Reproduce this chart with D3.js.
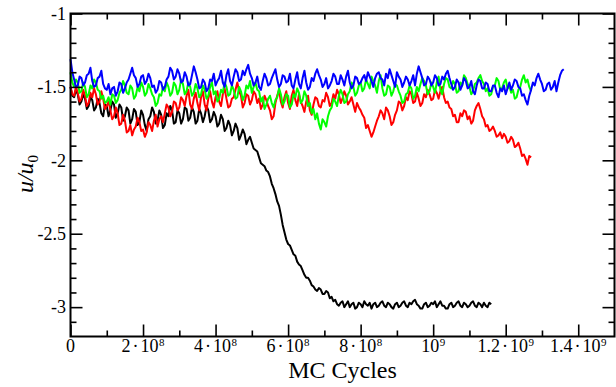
<!DOCTYPE html>
<html>
<head>
<meta charset="utf-8">
<script src="https://cdn.jsdelivr.net/npm/d3@7"></script>
<style>
  html, body { margin: 0; padding: 0; background: #fff; }
  svg { display: block; }
  text { font-family: "Liberation Serif", "DejaVu Serif", serif; fill: #000; }
</style>
</head>
<body>
<svg id="chart" width="616" height="387"></svg>
<script>
// sampling interval of the runs, in MC cycles
const step = 5e6

const blackRun = [
  -1.50, -1.56, -1.57, -1.52, -1.55, -1.62, -1.60, -1.55, -1.58, -1.65, -1.63, -1.57, -1.59, -1.66, -1.64, -1.58, -1.61, -1.68, -1.70, -1.62,
  -1.63, -1.70, -1.66, -1.60, -1.62, -1.71, -1.68, -1.62, -1.64, -1.73, -1.70, -1.64, -1.66, -1.75, -1.72, -1.65, -1.67, -1.76, -1.74, -1.66,
  -1.69, -1.76, -1.80, -1.72, -1.70, -1.64, -1.67, -1.75, -1.73, -1.66, -1.69, -1.78, -1.76, -1.68, -1.70, -1.63, -1.66, -1.75, -1.74, -1.66,
  -1.68, -1.75, -1.72, -1.64, -1.65, -1.73, -1.71, -1.64, -1.67, -1.75, -1.73, -1.65, -1.68, -1.74, -1.70, -1.63, -1.66, -1.74, -1.72, -1.67,
  -1.70, -1.77, -1.75, -1.69, -1.72, -1.80, -1.78, -1.73, -1.76, -1.83, -1.80, -1.75, -1.78, -1.86, -1.83, -1.79, -1.82, -1.89, -1.86, -1.84,
  -1.88, -1.92, -1.93, -1.94, -1.98, -2.02, -2.03, -2.04, -2.07, -2.08, -2.11, -2.16, -2.19, -2.23, -2.28, -2.31, -2.37, -2.44, -2.49, -2.54,
  -2.57, -2.58, -2.61, -2.64, -2.65, -2.69, -2.71, -2.72, -2.75, -2.78, -2.80, -2.80, -2.82, -2.85, -2.86, -2.88, -2.89, -2.87, -2.88, -2.91,
  -2.91, -2.89, -2.90, -2.94, -2.93, -2.96, -2.95, -2.98, -2.99, -2.97, -2.96, -3.00, -2.98, -2.96, -3.00, -2.98, -2.97, -3.01, -3.00, -2.97,
  -2.98, -3.00, -2.96, -2.98, -2.99, -2.97, -3.01, -2.98, -2.97, -3.00, -2.99, -2.97, -2.96, -2.99, -3.00, -2.97, -2.98, -3.00, -3.01, -2.98,
  -2.97, -3.00, -2.99, -2.97, -2.96, -2.99, -3.00, -2.97, -2.98, -2.96, -2.95, -2.98, -2.99, -3.01, -3.01, -2.98, -2.97, -3.00, -2.99, -2.97,
  -2.98, -2.96, -3.00, -2.98, -2.96, -2.99, -2.99, -3.01, -3.01, -2.98, -2.97, -3.00, -2.99, -2.97, -2.96, -2.99, -3.00, -2.97, -2.98, -3.00,
  -2.99, -2.97, -2.96, -2.99, -3.00, -2.97, -2.98, -3.00, -2.97, -2.99, -3.00, -2.97, -2.98
]

const redRun = [
  -1.50, -1.55, -1.56, -1.50, -1.54, -1.60, -1.58, -1.52, -1.56, -1.63, -1.61, -1.54, -1.57, -1.51, -1.55, -1.62, -1.60, -1.53, -1.58, -1.65,
  -1.63, -1.60, -1.66, -1.72, -1.70, -1.64, -1.68, -1.76, -1.75, -1.69, -1.73, -1.81, -1.80, -1.76, -1.83, -1.79, -1.77, -1.71, -1.74, -1.80,
  -1.79, -1.84, -1.81, -1.74, -1.76, -1.80, -1.73, -1.69, -1.77, -1.72, -1.70, -1.74, -1.68, -1.62, -1.64, -1.70, -1.67, -1.60, -1.61, -1.66,
  -1.64, -1.57, -1.59, -1.63, -1.56, -1.52, -1.62, -1.65, -1.58, -1.54, -1.61, -1.66, -1.57, -1.53, -1.62, -1.66, -1.58, -1.53, -1.60, -1.64,
  -1.57, -1.53, -1.60, -1.63, -1.55, -1.51, -1.58, -1.64, -1.63, -1.58, -1.57, -1.52, -1.47, -1.53, -1.56, -1.64, -1.61, -1.55, -1.56, -1.62,
  -1.59, -1.53, -1.55, -1.61, -1.58, -1.65, -1.62, -1.56, -1.59, -1.63, -1.66, -1.72, -1.70, -1.61, -1.56, -1.52, -1.60, -1.64, -1.57, -1.53,
  -1.61, -1.65, -1.56, -1.52, -1.59, -1.63, -1.55, -1.60, -1.63, -1.67, -1.60, -1.56, -1.66, -1.69, -1.62, -1.57, -1.58, -1.63, -1.64, -1.59,
  -1.60, -1.54, -1.57, -1.63, -1.61, -1.55, -1.58, -1.52, -1.55, -1.61, -1.58, -1.53, -1.56, -1.62, -1.60, -1.57, -1.62, -1.67, -1.61, -1.64,
  -1.66, -1.69, -1.71, -1.78, -1.76, -1.80, -1.84, -1.81, -1.77, -1.73, -1.70, -1.66, -1.68, -1.72, -1.64, -1.66, -1.70, -1.76, -1.74, -1.69,
  -1.66, -1.60, -1.61, -1.66, -1.63, -1.57, -1.59, -1.53, -1.55, -1.61, -1.60, -1.54, -1.58, -1.63, -1.61, -1.55, -1.57, -1.52, -1.55, -1.59,
  -1.58, -1.52, -1.54, -1.58, -1.53, -1.50, -1.57, -1.61, -1.60, -1.64, -1.65, -1.70, -1.69, -1.74, -1.74, -1.68, -1.70, -1.66, -1.67, -1.72,
  -1.70, -1.75, -1.73, -1.66, -1.63, -1.61, -1.65, -1.70, -1.72, -1.77, -1.76, -1.80, -1.79, -1.77, -1.80, -1.84, -1.83, -1.81, -1.85, -1.82,
  -1.84, -1.88, -1.87, -1.84, -1.86, -1.91, -1.90, -1.88, -1.92, -1.97, -1.96, -1.99, -2.03, -1.97, -1.98
]

const greenRun = [
  -1.40, -1.47, -1.50, -1.45, -1.47, -1.54, -1.53, -1.47, -1.50, -1.57, -1.55, -1.49, -1.51, -1.45, -1.47, -1.52, -1.53, -1.58, -1.56, -1.61,
  -1.60, -1.57, -1.62, -1.55, -1.56, -1.61, -1.59, -1.54, -1.52, -1.46, -1.49, -1.54, -1.55, -1.49, -1.51, -1.58, -1.56, -1.50, -1.53, -1.47,
  -1.50, -1.56, -1.54, -1.48, -1.51, -1.55, -1.57, -1.63, -1.61, -1.55, -1.56, -1.50, -1.53, -1.47, -1.50, -1.56, -1.54, -1.47, -1.49, -1.55,
  -1.52, -1.45, -1.48, -1.55, -1.53, -1.47, -1.50, -1.56, -1.54, -1.48, -1.51, -1.57, -1.55, -1.49, -1.52, -1.58, -1.56, -1.50, -1.47, -1.55,
  -1.53, -1.60, -1.58, -1.52, -1.54, -1.47, -1.50, -1.56, -1.55, -1.49, -1.52, -1.58, -1.57, -1.50, -1.53, -1.59, -1.56, -1.49, -1.51, -1.46,
  -1.54, -1.50, -1.47, -1.52, -1.53, -1.60, -1.57, -1.65, -1.62, -1.58, -1.56, -1.61, -1.64, -1.59, -1.57, -1.51, -1.55, -1.62, -1.60, -1.55,
  -1.56, -1.64, -1.62, -1.55, -1.57, -1.51, -1.54, -1.61, -1.59, -1.53, -1.56, -1.63, -1.61, -1.68, -1.65, -1.72, -1.68, -1.75, -1.79, -1.72,
  -1.74, -1.77, -1.70, -1.66, -1.64, -1.58, -1.60, -1.63, -1.56, -1.52, -1.55, -1.61, -1.60, -1.55, -1.53, -1.47, -1.50, -1.56, -1.54, -1.49,
  -1.47, -1.53, -1.51, -1.45, -1.48, -1.51, -1.43, -1.46, -1.49, -1.54, -1.46, -1.42, -1.51, -1.56, -1.55, -1.49, -1.50, -1.56, -1.53, -1.48,
  -1.49, -1.53, -1.56, -1.61, -1.60, -1.55, -1.54, -1.49, -1.51, -1.58, -1.56, -1.50, -1.53, -1.48, -1.44, -1.46, -1.49, -1.55, -1.53, -1.47,
  -1.50, -1.54, -1.47, -1.43, -1.52, -1.55, -1.48, -1.44, -1.45, -1.50, -1.51, -1.46, -1.48, -1.54, -1.53, -1.47, -1.49, -1.42, -1.44, -1.48,
  -1.50, -1.55, -1.53, -1.48, -1.47, -1.44, -1.42, -1.46, -1.48, -1.53, -1.51, -1.56, -1.55, -1.50, -1.49, -1.44, -1.46, -1.52, -1.51, -1.47,
  -1.45, -1.51, -1.49, -1.54, -1.52, -1.58, -1.57, -1.52, -1.50, -1.45, -1.42, -1.47, -1.45, -1.50, -1.53
]

const blueRun = [
  -1.31, -1.40, -1.45, -1.50, -1.49, -1.43, -1.44, -1.49, -1.47, -1.42, -1.41, -1.37, -1.46, -1.50, -1.49, -1.44, -1.43, -1.39, -1.48, -1.51,
  -1.52, -1.48, -1.55, -1.51, -1.50, -1.56, -1.53, -1.47, -1.48, -1.54, -1.51, -1.47, -1.45, -1.41, -1.37, -1.42, -1.44, -1.50, -1.48, -1.43,
  -1.42, -1.48, -1.46, -1.41, -1.44, -1.50, -1.49, -1.54, -1.52, -1.46, -1.47, -1.52, -1.50, -1.45, -1.43, -1.37, -1.39, -1.45, -1.43, -1.38,
  -1.41, -1.47, -1.46, -1.40, -1.43, -1.49, -1.48, -1.42, -1.36, -1.40, -1.45, -1.51, -1.50, -1.45, -1.47, -1.53, -1.51, -1.45, -1.46, -1.41,
  -1.49, -1.46, -1.44, -1.39, -1.47, -1.50, -1.42, -1.38, -1.46, -1.49, -1.43, -1.38, -1.40, -1.46, -1.45, -1.39, -1.42, -1.38, -1.35, -1.41,
  -1.44, -1.49, -1.47, -1.43, -1.50, -1.52, -1.46, -1.41, -1.44, -1.49, -1.48, -1.44, -1.41, -1.38, -1.45, -1.50, -1.48, -1.42, -1.43, -1.47,
  -1.46, -1.41, -1.49, -1.51, -1.45, -1.40, -1.48, -1.51, -1.44, -1.39, -1.47, -1.52, -1.50, -1.44, -1.46, -1.41, -1.38, -1.42, -1.45, -1.50,
  -1.48, -1.44, -1.51, -1.49, -1.46, -1.41, -1.43, -1.48, -1.48, -1.42, -1.45, -1.49, -1.43, -1.39, -1.47, -1.51, -1.49, -1.43, -1.44, -1.48,
  -1.47, -1.44, -1.42, -1.46, -1.40, -1.43, -1.46, -1.50, -1.44, -1.41, -1.40, -1.44, -1.45, -1.49, -1.41, -1.44, -1.38, -1.42, -1.46, -1.50,
  -1.40, -1.43, -1.45, -1.50, -1.47, -1.43, -1.45, -1.49, -1.46, -1.42, -1.49, -1.41, -1.36, -1.40, -1.44, -1.49, -1.48, -1.43, -1.45, -1.49,
  -1.47, -1.42, -1.44, -1.49, -1.48, -1.43, -1.45, -1.41, -1.39, -1.44, -1.48, -1.52, -1.50, -1.45, -1.47, -1.52, -1.49, -1.44, -1.46, -1.51,
  -1.50, -1.46, -1.53, -1.55, -1.49, -1.45, -1.46, -1.51, -1.51, -1.47, -1.48, -1.53, -1.53, -1.49, -1.49, -1.54, -1.57, -1.51, -1.53, -1.49,
  -1.55, -1.51, -1.47, -1.52, -1.49, -1.45, -1.46, -1.50, -1.51, -1.56, -1.55, -1.59, -1.62, -1.56, -1.52, -1.47, -1.49, -1.44, -1.41, -1.45,
  -1.48, -1.53, -1.52, -1.48, -1.47, -1.52, -1.50, -1.46, -1.53, -1.47, -1.42, -1.39, -1.38
]

const runs = [
  { values: blackRun, color: '#000000' },
  { values: redRun, color: '#ff0000' },
  { values: greenRun, color: '#00ff00' },
  { values: blueRun, color: '#0000ff' }
]

const xTicks = [0, 2e8, 4e8, 6e8, 8e8, 1e9, 1.2e9, 1.4e9]
const xTickPre = ['0', '2', '4', '6', '8', '', '1.2', '1.4']
const xTickExp = ['', '8', '8', '8', '8', '9', '9', '9']
const xMinor = [1e8, 3e8, 5e8, 7e8, 9e8, 1.1e9, 1.3e9]
const yTicks = [-1, -1.5, -2, -2.5, -3]
const yTickLabels = ['-1', '-1.5', '-2', '-2.5', '-3']
const yMinor = [-3.1, -2.9, -2.8, -2.7, -2.6, -2.4, -2.3, -2.2, -2.1, -1.9, -1.8, -1.7, -1.6, -1.4, -1.3, -1.2, -1.1]

const plot = { left: 70.5, right: 614.5, top: 13.5, bottom: 336.5 }

const x = d3.scaleLinear().domain([0, 1.5e9]).range([plot.left, plot.right])
const y = d3.scaleLinear().domain([-3.2, -1]).range([plot.bottom, plot.top])

const svg = d3.select('#chart')

// Data lines
const line = d3.line()
  .x((d, i) => x(i * step))
  .y(d => y(d))

const linesG = svg.append('g').attr('class', 'runs')
runs.forEach(r => {
  linesG.append('path')
    .datum(r.values)
    .attr('d', line)
    .attr('fill', 'none')
    .attr('stroke', r.color)
    .attr('stroke-width', 2)
    .attr('stroke-linejoin', 'round')
})

// Inward ticks on all four sides
function addTicks(axis, tx, ty, values, size) {
  const g = svg.append('g')
    .attr('transform', `translate(${tx},${ty})`)
    .call(axis.tickValues(values).tickSize(-size).tickSizeOuter(0).tickFormat(''))
  g.select('.domain').remove()
  g.selectAll('line').attr('stroke', '#000').attr('stroke-width', 1.6)
  return g
}

addTicks(d3.axisBottom(x), 0, plot.bottom, xTicks, 12)
addTicks(d3.axisBottom(x), 0, plot.bottom, xMinor, 6)
addTicks(d3.axisTop(x), 0, plot.top, xTicks, 12)
addTicks(d3.axisTop(x), 0, plot.top, xMinor, 6)
addTicks(d3.axisLeft(y), plot.left, 0, yTicks, 12)
addTicks(d3.axisLeft(y), plot.left, 0, yMinor, 6)
addTicks(d3.axisRight(y), plot.right, 0, yTicks, 12)
addTicks(d3.axisRight(y), plot.right, 0, yMinor, 6)

// Frame
svg.append('rect')
  .attr('x', plot.left).attr('y', plot.top)
  .attr('width', plot.right - plot.left).attr('height', plot.bottom - plot.top)
  .attr('fill', 'none').attr('stroke', '#000').attr('stroke-width', 2)

// X tick labels (mantissa · 10^exp)
const xLab = svg.append('g')
xTicks.forEach((v, i) => {
  const t = xLab.append('text')
    .attr('x', x(v)).attr('y', 352)
    .attr('text-anchor', 'middle')
    .style('font-size', '18px')
  const pre = xTickPre[i], exp = xTickExp[i]
  if (!exp) { t.text(pre); return }
  if (pre) {
    t.append('tspan').text(pre)
    t.append('tspan').attr('dx', 2).text('\u00b7')
    t.append('tspan').attr('dx', 2).text('10')
  } else {
    t.append('tspan').text('10')
  }
  t.append('tspan').attr('dx', 0.5).attr('dy', -6.5).style('font-size', '11px').text(exp)
})

// Y tick labels
const yLab = svg.append('g')
yTicks.forEach((v, i) => {
  yLab.append('text')
    .attr('x', 66).attr('y', y(v))
    .attr('dy', '0.35em')
    .attr('text-anchor', 'end')
    .style('font-size', '18px')
    .text(yTickLabels[i])
})

// Axis titles
svg.append('text')
  .attr('x', (plot.left + plot.right) / 2).attr('y', 377.5)
  .attr('text-anchor', 'middle')
  .style('font-size', '24px')
  .text('MC Cycles')

const yTitle = svg.append('text')
  .attr('transform', 'translate(33,174) rotate(-90)')
  .attr('text-anchor', 'middle')
  .style('font-size', '24px')
  .style('font-style', 'italic')
yTitle.append('tspan').text('u/u')
yTitle.append('tspan').attr('dy', 5).style('font-size', '15px').style('font-style', 'normal').text('0')
</script>
</body>
</html>
